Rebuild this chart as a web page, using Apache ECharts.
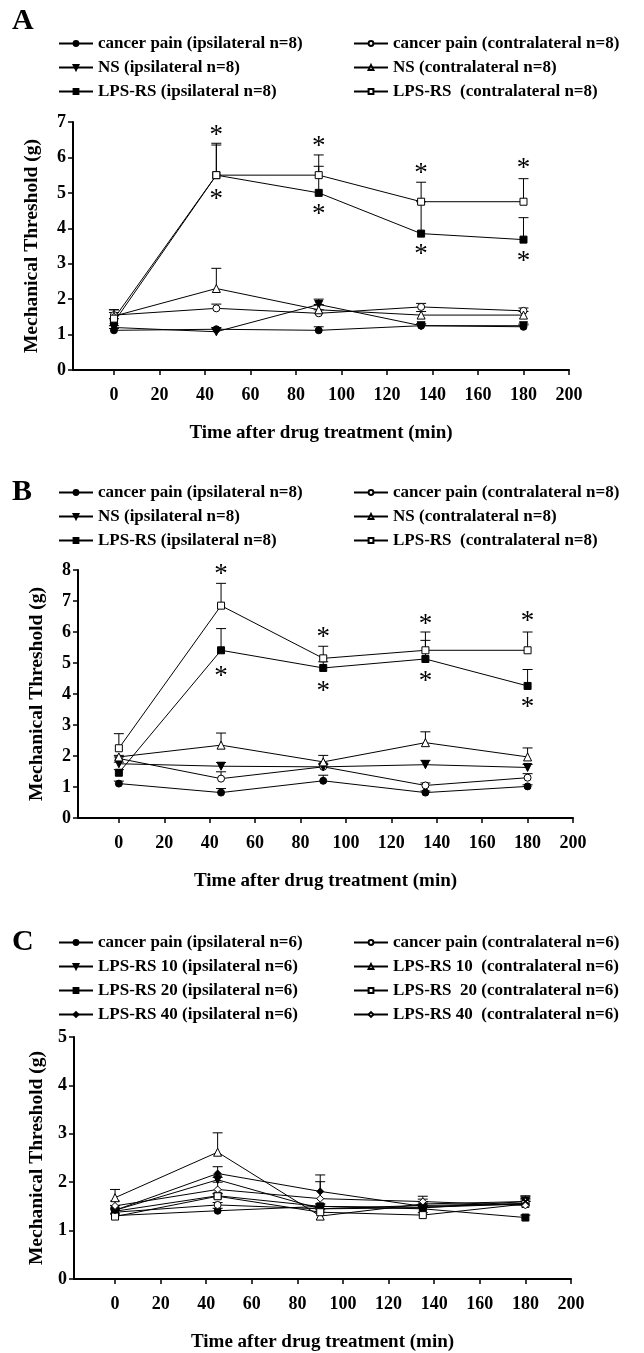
<!DOCTYPE html>
<html>
<head>
<meta charset="utf-8">
<script src="https://cdn.jsdelivr.net/npm/echarts@6/dist/echarts.min.js"></script>
<style>
  html, body { margin: 0; padding: 0; background: #fff; }
  #chart { width: 644px; height: 1353px; }
</style>
</head>
<body>
<div id="chart"></div>
<script>
// time points (min) and x tick labels
const times = [0, 45, 90, 135, 180];
const xTicks = [0, 20, 40, 60, 80, 100, 120, 140, 160, 180, 200];

// Panel A (n=8)
const aCancerIpsi = [1.12, 1.15, 1.12, 1.25, 1.22];
const aCancerContra = [1.55, 1.74, 1.6, 1.78, 1.67];
const aNsIpsi = [1.2, 1.08, 1.85, 1.25, 1.25];
const aNsContra = [1.52, 2.3, 1.7, 1.55, 1.55];
const aLpsIpsi = [1.35, 5.5, 5.0, 3.85, 3.68];
const aLpsContra = [1.45, 5.5, 5.5, 4.75, 4.75];
const aCancerIpsiErr = [0.05, 0.05, 0.1, 0.05, 0.05];
const aCancerContraErr = [0.15, 0.12, 0.1, 0.1, 0.08];
const aNsIpsiErr = [0.05, 0.1, 0.15, 0.05, 0.05];
const aNsContraErr = [0.1, 0.57, 0.15, 0.1, 0.1];
const aLpsIpsiErr = [0.1, 0.85, 1.07, 0.9, 0.62];
const aLpsContraErr = [0.25, 0.9, 0.25, 0.55, 0.65];
const aStars = [[45, 6.75], [45, 4.93], [90, 6.44], [90, 4.51], [135, 5.67], [135, 3.4], [180, 5.83], [180, 3.2]];

// Panel B (n=8)
const bCancerIpsi = [1.11, 0.82, 1.2, 0.82, 1.02];
const bCancerContra = [1.92, 1.27, 1.65, 1.05, 1.3];
const bNsIpsi = [1.75, 1.67, 1.65, 1.72, 1.63];
const bNsContra = [1.97, 2.35, 1.81, 2.43, 1.97];
const bLpsIpsi = [1.46, 5.41, 4.84, 5.13, 4.26];
const bLpsContra = [2.25, 6.85, 5.15, 5.41, 5.41];
const bCancerIpsiErr = [0.08, 0.13, 0.18, 0.05, 0.05];
const bCancerContraErr = [0.05, 0.22, 0.1, 0.08, 0.13];
const bNsIpsiErr = [0.05, 0.12, 0.08, 0.14, 0.1];
const bNsContraErr = [0.05, 0.39, 0.21, 0.35, 0.29];
const bLpsIpsiErr = [0.1, 0.7, 0.2, 0.6, 0.53];
const bLpsContraErr = [0.47, 0.72, 0.39, 0.59, 0.59];
const bStars = [[45, 8.0], [45, 4.71], [90, 5.97], [90, 4.23], [135, 6.4], [135, 4.55], [180, 6.49], [180, 3.71]];

// Panel C (n=6)
const cCancerIpsi = [1.31, 1.41, 1.5, 1.48, 1.55];
const cCancerContra = [1.38, 1.53, 1.45, 1.52, 1.56];
const cL10Ipsi = [1.42, 2.05, 1.45, 1.47, 1.6];
const cL10Contra = [1.68, 2.62, 1.3, 1.55, 1.6];
const cL20Ipsi = [1.4, 1.72, 1.5, 1.45, 1.27];
const cL20Contra = [1.29, 1.71, 1.38, 1.32, 1.55];
const cL40Ipsi = [1.42, 2.18, 1.81, 1.5, 1.55];
const cL40Contra = [1.51, 1.85, 1.66, 1.6, 1.52];
const cSmallErr = [0.05, 0.05, 0.05, 0.05, 0.05];
const cL10ContraErr = [0.17, 0.4, 0.08, 0.1, 0.12];
const cL40IpsiErr = [0.1, 0.14, 0.34, 0.1, 0.15];
const cL40ContraErr = [0.1, 0.15, 0.35, 0.11, 0.15];

const FONT = 'Liberation Serif';
const chart = echarts.init(document.getElementById('chart'));

const series = [];
const errBars = [[], [], []];

function addLine(name, panel, values, errs, symbol, filled, rotate) {
  series.push({
    name: name,
    type: 'line',
    xAxisIndex: panel,
    yAxisIndex: panel,
    data: times.map((t, i) => [t, values[i]]),
    symbol: symbol,
    symbolSize: symbol === 'triangle' ? 8 : 7,
    symbolRotate: rotate || 0,
    showAllSymbol: true,
    z: 3,
    lineStyle: { color: '#000', width: 1 },
    itemStyle: { color: filled ? '#000' : '#fff', borderColor: '#000', borderWidth: 1 },
    emphasis: { disabled: true }
  });
  errBars[panel].push(...times.map((t, i) => [t, values[i], values[i] + errs[i]]));
}

// A
addLine('cancer pain (ipsilateral n=8)', 0, aCancerIpsi, aCancerIpsiErr, 'circle', true);
addLine('cancer pain (contralateral n=8)', 0, aCancerContra, aCancerContraErr, 'circle', false);
addLine('NS (ipsilateral n=8)', 0, aNsIpsi, aNsIpsiErr, 'triangle', true, 180);
addLine('NS (contralateral n=8)', 0, aNsContra, aNsContraErr, 'triangle', false);
addLine('LPS-RS (ipsilateral n=8)', 0, aLpsIpsi, aLpsIpsiErr, 'rect', true);
addLine('LPS-RS  (contralateral n=8)', 0, aLpsContra, aLpsContraErr, 'rect', false);
// B
addLine('cancer pain (ipsilateral n=8)', 1, bCancerIpsi, bCancerIpsiErr, 'circle', true);
addLine('cancer pain (contralateral n=8)', 1, bCancerContra, bCancerContraErr, 'circle', false);
addLine('NS (ipsilateral n=8)', 1, bNsIpsi, bNsIpsiErr, 'triangle', true, 180);
addLine('NS (contralateral n=8)', 1, bNsContra, bNsContraErr, 'triangle', false);
addLine('LPS-RS (ipsilateral n=8)', 1, bLpsIpsi, bLpsIpsiErr, 'rect', true);
addLine('LPS-RS  (contralateral n=8)', 1, bLpsContra, bLpsContraErr, 'rect', false);
// C
addLine('cancer pain (ipsilateral n=6)', 2, cCancerIpsi, cSmallErr, 'circle', true);
addLine('cancer pain (contralateral n=6)', 2, cCancerContra, cSmallErr, 'circle', false);
addLine('LPS-RS 10 (ipsilateral n=6)', 2, cL10Ipsi, cSmallErr, 'triangle', true, 180);
addLine('LPS-RS 10  (contralateral n=6)', 2, cL10Contra, cL10ContraErr, 'triangle', false);
addLine('LPS-RS 20 (ipsilateral n=6)', 2, cL20Ipsi, cSmallErr, 'rect', true);
addLine('LPS-RS  20 (contralateral n=6)', 2, cL20Contra, cSmallErr, 'rect', false);
addLine('LPS-RS 40 (ipsilateral n=6)', 2, cL40Ipsi, cL40IpsiErr, 'diamond', true);
addLine('LPS-RS 40  (contralateral n=6)', 2, cL40Contra, cL40ContraErr, 'diamond', false);

// error bars (upper half only, with cap)
function renderErr(params, api) {
  const p0 = api.coord([api.value(0), api.value(1)]);
  const p1 = api.coord([api.value(0), api.value(2)]);
  const st = { stroke: '#000', lineWidth: 1 };
  return {
    type: 'group',
    children: [
      { type: 'line', shape: { x1: p0[0], y1: p0[1], x2: p1[0], y2: p1[1] }, style: st },
      { type: 'line', shape: { x1: p1[0] - 5, y1: p1[1], x2: p1[0] + 5, y2: p1[1] }, style: st }
    ]
  };
}
[0, 1, 2].forEach(p => {
  series.push({
    type: 'custom', xAxisIndex: p, yAxisIndex: p, z: 2,
    renderItem: renderErr, data: errBars[p], silent: true
  });
});

// significance asterisks
function renderStar(params, api) {
  const pt = api.coord([api.value(0), api.value(1)]);
  return {
    type: 'text',
    style: {
      text: '*', x: pt[0], y: pt[1] + 5, align: 'center', verticalAlign: 'middle',
      font: '27px "' + FONT + '"', fill: '#000'
    }
  };
}
[[0, aStars], [1, bStars]].forEach(([p, d]) => {
  series.push({
    type: 'custom', xAxisIndex: p, yAxisIndex: p, z: 4, clip: false,
    renderItem: renderStar, data: d, silent: true
  });
});

const grids = [
  { left: 73, top: 122, width: 496, height: 248 },
  { left: 78, top: 570, width: 495, height: 248 },
  { left: 74, top: 1037, width: 497, height: 248 }
];
const yMax = [7, 8, 5];
const yNameGap = [31, 31, 27];

const labelStyle = { fontFamily: FONT, fontWeight: 'bold', fontSize: 18, color: '#000' };

const xAxes = grids.map((g, i) => ({
  type: 'value', gridIndex: i, min: -18, max: 200,
  axisLine: { onZero: false, lineStyle: { color: '#000', width: 2 } },
  axisTick: { customValues: xTicks, length: 5, lineStyle: { color: '#000', width: 1.5 } },
  axisLabel: Object.assign({ customValues: xTicks, margin: 16 }, labelStyle),
  splitLine: { show: false },
  name: 'Time after drug treatment (min)',
  nameLocation: 'middle', nameGap: 54,
  nameTextStyle: { fontFamily: FONT, fontWeight: 'bold', fontSize: 19, color: '#000' }
}));

const yAxes = grids.map((g, i) => ({
  type: 'value', gridIndex: i, min: 0, max: yMax[i], interval: 1,
  axisLine: { show: true, onZero: false, lineStyle: { color: '#000', width: 2 } },
  axisTick: { show: true, length: 5, lineStyle: { color: '#000', width: 1.5 } },
  axisLabel: Object.assign({ margin: 7 }, labelStyle),
  splitLine: { show: false },
  name: 'Mechanical Threshold (g)',
  nameLocation: 'middle', nameGap: yNameGap[i], nameRotate: 90,
  nameTextStyle: { fontFamily: FONT, fontWeight: 'bold', fontSize: 19.5, color: '#000' }
}));

function legendCol(names, left, top) {
  return {
    orient: 'vertical', left: left, top: top, data: names,
    itemWidth: 34, itemHeight: 6, itemGap: 7, selectedMode: false,
    padding: 0,
    textStyle: { fontFamily: FONT, fontWeight: 'bold', fontSize: 17, color: '#000', lineHeight: 17 }
  };
}

const legends = [
  legendCol(['cancer pain (ipsilateral n=8)', 'NS (ipsilateral n=8)', 'LPS-RS (ipsilateral n=8)'], 58, 35),
  legendCol(['cancer pain (contralateral n=8)', 'NS (contralateral n=8)', 'LPS-RS  (contralateral n=8)'], 353, 35),
  legendCol(['cancer pain (ipsilateral n=8)', 'NS (ipsilateral n=8)', 'LPS-RS (ipsilateral n=8)'], 58, 484),
  legendCol(['cancer pain (contralateral n=8)', 'NS (contralateral n=8)', 'LPS-RS  (contralateral n=8)'], 353, 484),
  legendCol(['cancer pain (ipsilateral n=6)', 'LPS-RS 10 (ipsilateral n=6)', 'LPS-RS 20 (ipsilateral n=6)', 'LPS-RS 40 (ipsilateral n=6)'], 58, 934),
  legendCol(['cancer pain (contralateral n=6)', 'LPS-RS 10  (contralateral n=6)', 'LPS-RS  20 (contralateral n=6)', 'LPS-RS 40  (contralateral n=6)'], 353, 934)
];

const letterStyle = { font: 'bold 30px "' + FONT + '"', fill: '#000' };
const graphic = [
  { type: 'text', left: 12, top: 6, style: Object.assign({ text: 'A' }, letterStyle) },
  { type: 'text', left: 12, top: 477, style: Object.assign({ text: 'B' }, letterStyle) },
  { type: 'text', left: 12, top: 927, style: Object.assign({ text: 'C' }, letterStyle) }
];

chart.setOption({
  animation: false,
  backgroundColor: '#fff',
  grid: grids,
  xAxis: xAxes,
  yAxis: yAxes,
  legend: legends,
  graphic: graphic,
  series: series
});
</script>
</body>
</html>
